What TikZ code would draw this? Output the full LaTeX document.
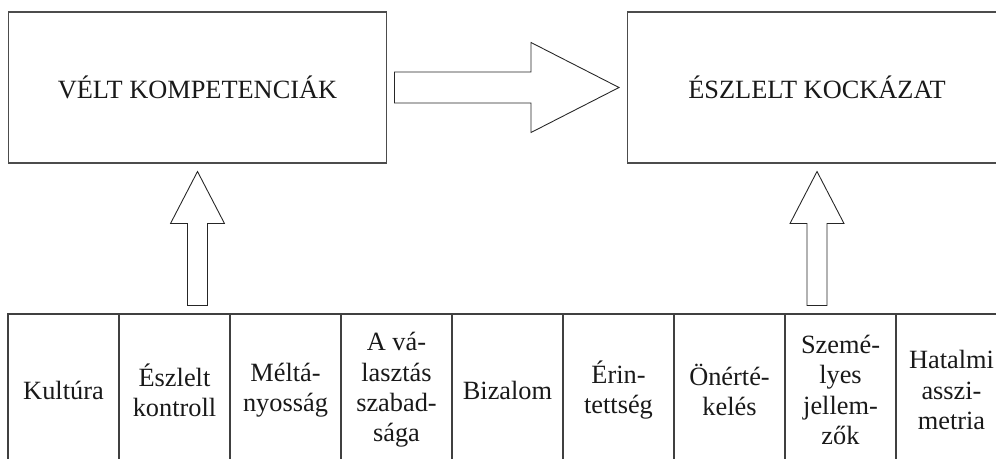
\documentclass[tikz,border=0pt]{standalone}
\usepackage{fontspec}
\setmainfont{Liberation Serif}
\usetikzlibrary{calc}
\begin{document}
\begin{tikzpicture}[x=0.02cm, y=-0.02cm, line join=miter,
  bigbox/.style={draw=black!70, line width=0.6pt, minimum width=7.58cm, minimum height=3.02cm,
    inner sep=0pt, font=\fontsize{15}{17.2}\selectfont, text=black!90},
  cellbox/.style={draw=black!75, line width=0.6pt, minimum width=2.22cm, minimum height=3.04cm,
    inner sep=0pt, align=center, font=\fontsize{15}{17.2}\selectfont, text=black!90},
  blockarrow/.style={draw=black!85, line width=0.5pt, fill=white}]
  \useasboundingbox (0,0) rectangle (996,459);
  \clip (0,0) rectangle (996,459);
  % the two main boxes
  \node[bigbox] (velt) at (197.5,87.5) {VÉLT KOMPETENCIÁK};
  \node[bigbox] (eszlelt) at (817,87.5) {ÉSZLELT KOCKÁZAT};
  % row of factors
  \foreach \txt [count=\i] in {Kultúra, {Észlelt\\kontroll}, {Méltá-\\nyosság},
      {A vá-\\lasztás\\szabad-\\sága}, Bizalom, {Érin-\\tettség}, {Önérté-\\kelés},
      {Szemé-\\lyes\\jellem-\\zők}, {Hatalmi\\asszi-\\metria}}
    \node[cellbox] (cell\i) at ({8+55.5+111*(\i-1)},390) {\txt};
  % wide arrow between the boxes
  \draw[blockarrow] ($(velt.east)+(7,-15.5)$) -- ($(eszlelt.west)+(-96,-15.5)$)
    -- ($(eszlelt.west)+(-96,-45)$) -- ($(eszlelt.west)+(-8,0)$)
    -- ($(eszlelt.west)+(-96,45)$) -- ($(eszlelt.west)+(-96,15.5)$)
    -- ($(velt.east)+(7,15.5)$) -- cycle;
  % upward arrows from the row
  \foreach \b in {velt,eszlelt}
    \draw[blockarrow] ($(\b.south)+(0,8)$) coordinate (tip) -- ++(27,52) -- ++(-17,0)
      -- ($(\b.south |- cell1.north)+(10,-8)$) -- ++(-20,0)
      -- ($(tip)+(-10,52)$) -- ++(-17,0) -- cycle;
\end{tikzpicture}
\end{document}
